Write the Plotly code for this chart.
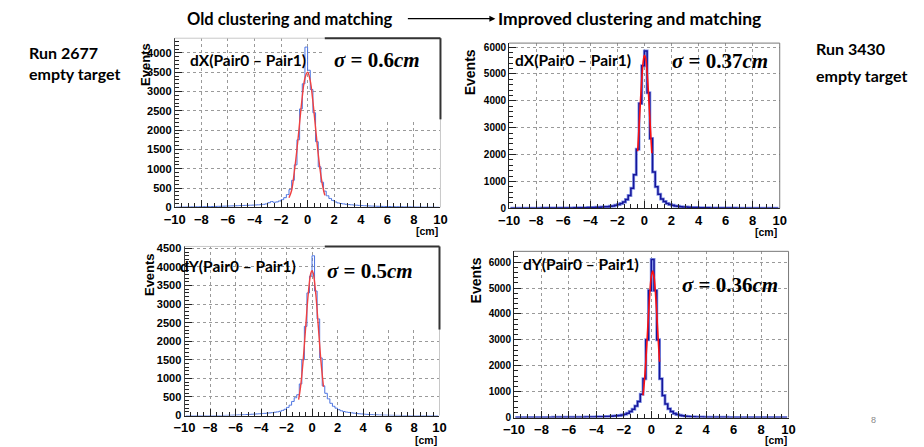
import numpy as np
import plotly.graph_objects as go

W, H = 924, 447

BIN_LO, BIN_HI, BIN_W = -10.0, 10.0, 0.2
centers = np.round(np.arange(BIN_LO + BIN_W / 2, BIN_HI, BIN_W), 2)

old_dx = [5, 5, 8, 8, 10, 10, 12, 12, 14, 15, 16, 18, 20, 20, 22, 24, 26, 28, 30, 32,
          35, 38, 40, 42, 45, 48, 50, 52, 55, 58,
          62, 66, 70, 78, 90, 120, 150, 130, 140, 165,
          200, 250, 330, 460, 700, 1100, 1750, 2550, 3200, 4150,
          3550, 3050, 2450, 1700, 1050, 650, 420, 300, 230, 180,
          140, 115, 100, 90, 80, 72, 66, 60, 55, 50,
          46, 42, 38, 35, 32, 30, 28, 26, 24, 22,
          20, 19, 18, 16, 15, 14, 13, 12, 11, 10, 9, 8, 7, 6, 6, 5, 4, 3, 2, 1]
old_dx_fit_x = [-1.4, -1.2, -1.0, -0.8, -0.6, -0.4, -0.2, 0.0, 0.2, 0.4, 0.6, 0.8, 1.0, 1.2, 1.3]
old_dx_fit_y = [248, 443, 922, 1504, 2194, 2864, 3346, 3498, 3273, 2740, 2052, 1375, 824, 443, 311]

old_dy = [0, 0, 0, 0, 0, 0, 0, 0, 0, 0, 0, 0, 0, 0, 2, 4, 6, 8, 10, 12,
          15, 18, 20, 24, 28, 32, 36, 40, 45, 50,
          55, 60, 66, 72, 80, 90, 100, 115, 140, 170,
          220, 280, 380, 480, 560, 850, 1500, 2400, 3300, 3750,
          4300, 3350, 2600, 1550, 800, 600, 450, 330, 250, 200,
          160, 130, 110, 95, 85, 75, 66, 58, 50, 44,
          38, 33, 29, 25, 22, 19, 16, 14, 12, 10,
          8, 7, 6, 5, 4, 3, 2, 1, 0, 0, 0, 0, 0, 0, 0, 0, 0, 0, 0, 0]
old_dy_fit_x = [-1.05, -0.9, -0.7, -0.5, -0.3, -0.1, 0.0, 0.1, 0.3, 0.5, 0.7, 0.9]
old_dy_fit_y = [430, 771, 1464, 2365, 3258, 3823, 3900, 3823, 3258, 2365, 1464, 771]

new_dx = [3, 3, 4, 4, 5, 5, 5, 6, 6, 6, 7, 7, 8, 8, 9, 9, 10, 10, 11, 12,
          13, 14, 15, 16, 17, 18, 20, 22, 24, 27,
          30, 33, 37, 42, 48, 55, 63, 75, 90, 110,
          140, 180, 240, 330, 480, 750, 1250, 2200, 3900, 5300,
          5850, 4300, 2600, 1350, 800, 520, 350, 250, 180, 140,
          110, 90, 75, 62, 52, 45, 40, 35, 30, 27,
          24, 21, 19, 17, 15, 14, 13, 12, 11, 10,
          9, 9, 8, 8, 7, 7, 6, 6, 5, 5, 5, 4, 4, 4, 3, 3, 3, 2, 2, 2]
new_dx_fit_x = [-0.5, -0.4, -0.3, -0.2, -0.1, 0.0, 0.1, 0.2, 0.3, 0.4, 0.5, 0.55]
new_dx_fit_y = [2122, 2993, 3921, 4777, 5408, 5692, 5568, 5063, 4281, 3364, 2458, 2050]

new_dy = [3, 3, 3, 4, 4, 4, 4, 5, 5, 5, 5, 6, 6, 6, 7, 7, 7, 8, 8, 9,
          10, 11, 12, 13, 14, 15, 17, 19, 21, 24,
          27, 30, 34, 38, 43, 50, 58, 68, 80, 100,
          130, 170, 230, 320, 450, 620, 900, 1500, 3000, 4900,
          6100, 4900, 3000, 1500, 850, 520, 340, 230, 160, 120,
          85, 65, 50, 40, 32, 27, 23, 20, 17, 15,
          13, 12, 11, 10, 9, 8, 7, 7, 6, 6,
          5, 5, 5, 4, 4, 4, 4, 3, 3, 3, 3, 3, 2, 2, 2, 2, 2, 2, 1, 1]
new_dy_fit_x = [-0.6, -0.5, -0.4, -0.3, -0.2, -0.1, 0.0, 0.1, 0.2, 0.3, 0.4, 0.5, 0.6]
new_dy_fit_y = [853, 1410, 2153, 3048, 3993, 4842, 5436, 5650, 5436, 4842, 3993, 3048, 2153]

panel_titles = ["dX(Pair0 \u2013 Pair1)", "dX(Pair0 \u2013 Pair1)",
                "dY(Pair0 \u2013 Pair1)", "dY(Pair0 \u2013 Pair1)"]
sigma_vals = ["0.6", "0.37", "0.5", "0.36"]
header_left = "Old clustering and matching"
header_right = "Improved clustering and matching"
run_left = ["Run 2677", "empty target"]
run_right = ["Run 3430", "empty target"]
x_ticks = list(range(-10, 11, 2))


def px(x):
    return x / W


def py(y):
    return 1 - y / H


panels = [
    dict(box=(167, 438, 35, 208), ymax=4380, dy=500, mdy=100, ytf=11, old=True,
         h=old_dx, fx=old_dx_fit_x, fy=old_dx_fit_y),
    dict(box=(508, 784, 40, 209), ymax=6145, dy=1000, mdy=200, ytf=10, old=False,
         h=new_dx, fx=new_dx_fit_x, fy=new_dx_fit_y),
    dict(box=(177, 437, 248, 421), ymax=4550, dy=500, mdy=100, ytf=11, old=True,
         h=old_dy, fx=old_dy_fit_x, fy=old_dy_fit_y),
    dict(box=(513, 793, 253, 423), ymax=6415, dy=1000, mdy=200, ytf=10, old=False,
         h=new_dy, fx=new_dy_fit_x, fy=new_dy_fit_y),
]

fig = go.Figure()
layout = dict(width=W, height=H, margin=dict(l=0, r=0, t=0, b=0),
              paper_bgcolor="white", plot_bgcolor="white", showlegend=False)

tick_font_x = dict(family="Liberation Sans", size=13, color="black", weight="bold")

for i, p in enumerate(panels):
    n = "" if i == 0 else str(i + 1)
    xa, ya = "x" + n, "y" + n
    x0, x1, yt, yb = p["box"]
    if p["old"]:
        fig.add_trace(go.Scatter(x=centers, y=p["h"], xaxis=xa, yaxis=ya, mode="lines",
                                 line=dict(color="#4a72e0", width=1, shape="hvh"),
                                 hoverinfo="skip"))
        fig.add_trace(go.Scatter(x=p["fx"], y=p["fy"], xaxis=xa, yaxis=ya, mode="lines",
                                 line=dict(color="#f04040", width=1.4, shape="spline"),
                                 hoverinfo="skip"))
    else:
        fig.add_trace(go.Scatter(x=centers, y=p["h"], xaxis=xa, yaxis=ya, mode="lines",
                                 line=dict(color="#8a9ae8", width=3.0, shape="hvh"),
                                 hoverinfo="skip"))
        fig.add_trace(go.Scatter(x=centers, y=p["h"], xaxis=xa, yaxis=ya, mode="lines",
                                 line=dict(color="#16169a", width=1.5, shape="hvh"),
                                 hoverinfo="skip"))
        fig.add_trace(go.Scatter(x=p["fx"], y=p["fy"], xaxis=xa, yaxis=ya, mode="lines",
                                 line=dict(color="#ff1010", width=1.6, shape="spline"),
                                 hoverinfo="skip"))
    layout["xaxis" + n] = dict(
        domain=[px(x0), px(x1)], anchor=ya, range=[-10, 10],
        tickmode="array", tickvals=x_ticks, ticks="inside", ticklen=7,
        tickcolor="#222", tickfont=tick_font_x,
        showgrid=True, gridcolor="#9a9a9a", griddash="dot", gridwidth=1,
        zeroline=False, showline=True, linecolor="#222", linewidth=1,
        mirror=False,
        minor=dict(dtick=0.5, ticks="inside", ticklen=4, tickcolor="#222", showgrid=False),
    )
    layout["yaxis" + n] = dict(
        domain=[py(yb), py(yt)], anchor=xa, range=[0, p["ymax"]],
        dtick=p["dy"], tick0=0, ticks="inside", ticklen=7, tickcolor="#222",
        tickfont=dict(family="Liberation Sans", size=p["ytf"], color="black", weight="bold"),
        showgrid=True, gridcolor="#9a9a9a", griddash="dot", gridwidth=1,
        zeroline=False, showline=True, linecolor="#444" if p["old"] else "#222",
        linewidth=1,
        minor=dict(dtick=p["mdy"], ticks="inside", ticklen=4, tickcolor="#222", showgrid=False),
    )

shapes = []
annotations = []

for i, p in enumerate(panels):
    x0, x1, yt, yb = p["box"]
    col = "#c8c8c8" if p["old"] else "#777777"
    shapes.append(dict(type="line", xref="paper", yref="paper", x0=px(x0), x1=px(x1),
                       y0=py(yt), y1=py(yt), line=dict(color=col, width=1)))
    shapes.append(dict(type="line", xref="paper", yref="paper", x0=px(x1), x1=px(x1),
                       y0=py(yt), y1=py(yb), line=dict(color=col, width=1)))

for (bx0, bx1, by0, by1) in [(320, 438, 35, 118), (320, 437, 248, 333)]:
    shapes.append(dict(type="rect", xref="paper", yref="paper", x0=px(bx0), x1=px(bx1),
                       y0=py(by1), y1=py(by0), fillcolor="white", line=dict(width=0),
                       layer="above"))
    shapes.append(dict(type="line", xref="paper", yref="paper", x0=px(bx0), x1=px(bx1),
                       y0=py(by0), y1=py(by0), line=dict(color="#333", width=2)))
    shapes.append(dict(type="line", xref="paper", yref="paper", x0=px(bx1), x1=px(bx1),
                       y0=py(by0), y1=py(by1), line=dict(color="#333", width=2)))


def text(x, y, s, size, family="Lato", color="black", xanchor="left", yanchor="middle",
         angle=0, weight="bold"):
    annotations.append(dict(xref="paper", yref="paper", x=px(x), y=py(y), text=s,
                            showarrow=False, xanchor=xanchor, yanchor=yanchor,
                            textangle=angle, borderpad=0, borderwidth=0,
                            font=dict(family=family, size=size, color=color, weight=weight)))


text(179, 15, header_left, 16.5)
text(497, 15, header_right, 17.5)
annotations.append(dict(xref="paper", yref="paper", x=px(494), y=py(15), text="",
                        showarrow=True, ax=-89, ay=0, arrowhead=2, arrowsize=1,
                        arrowwidth=1.2, arrowcolor="black"))

text(18, 50, run_left[0], 16)
text(18, 71, run_left[1], 16)
text(821, 46, run_right[0], 16)
text(821, 73, run_right[1], 16)

title_pos = [(183, 57), (514, 57), (172, 268), (522, 266)]
for (tx, ty), s in zip(title_pos, panel_titles):
    text(tx, ty, s, 15.5)

sigma_pos = [(329, 57), (674, 58), (322, 273), (684, 287)]
for (sx, sy), v in zip(sigma_pos, sigma_vals):
    text(sx, sy, "<i>\u03c3</i> = " + v + "<i>cm</i>", 21, family="Liberation Serif")

events_pos = [(137, 62, 13), (469, 70, 14), (142, 277, 13), (474, 283, 14)]
for ex, ey, es in events_pos:
    text(ex, ey, "Events", es, family="Liberation Sans", xanchor="center", angle=-90)

cm_pos = [(424, 232), (770, 233), (423, 446), (780, 446)]
for cx, cy in cm_pos:
    text(cx, cy, "[cm]", 10.5, family="Liberation Sans", xanchor="center")

text(880, 426, "8", 9, family="Liberation Sans", color="#888", xanchor="center",
     weight="normal")

layout["shapes"] = shapes
layout["annotations"] = annotations
fig.update_layout(**layout)
fig.write_html("out.html")
